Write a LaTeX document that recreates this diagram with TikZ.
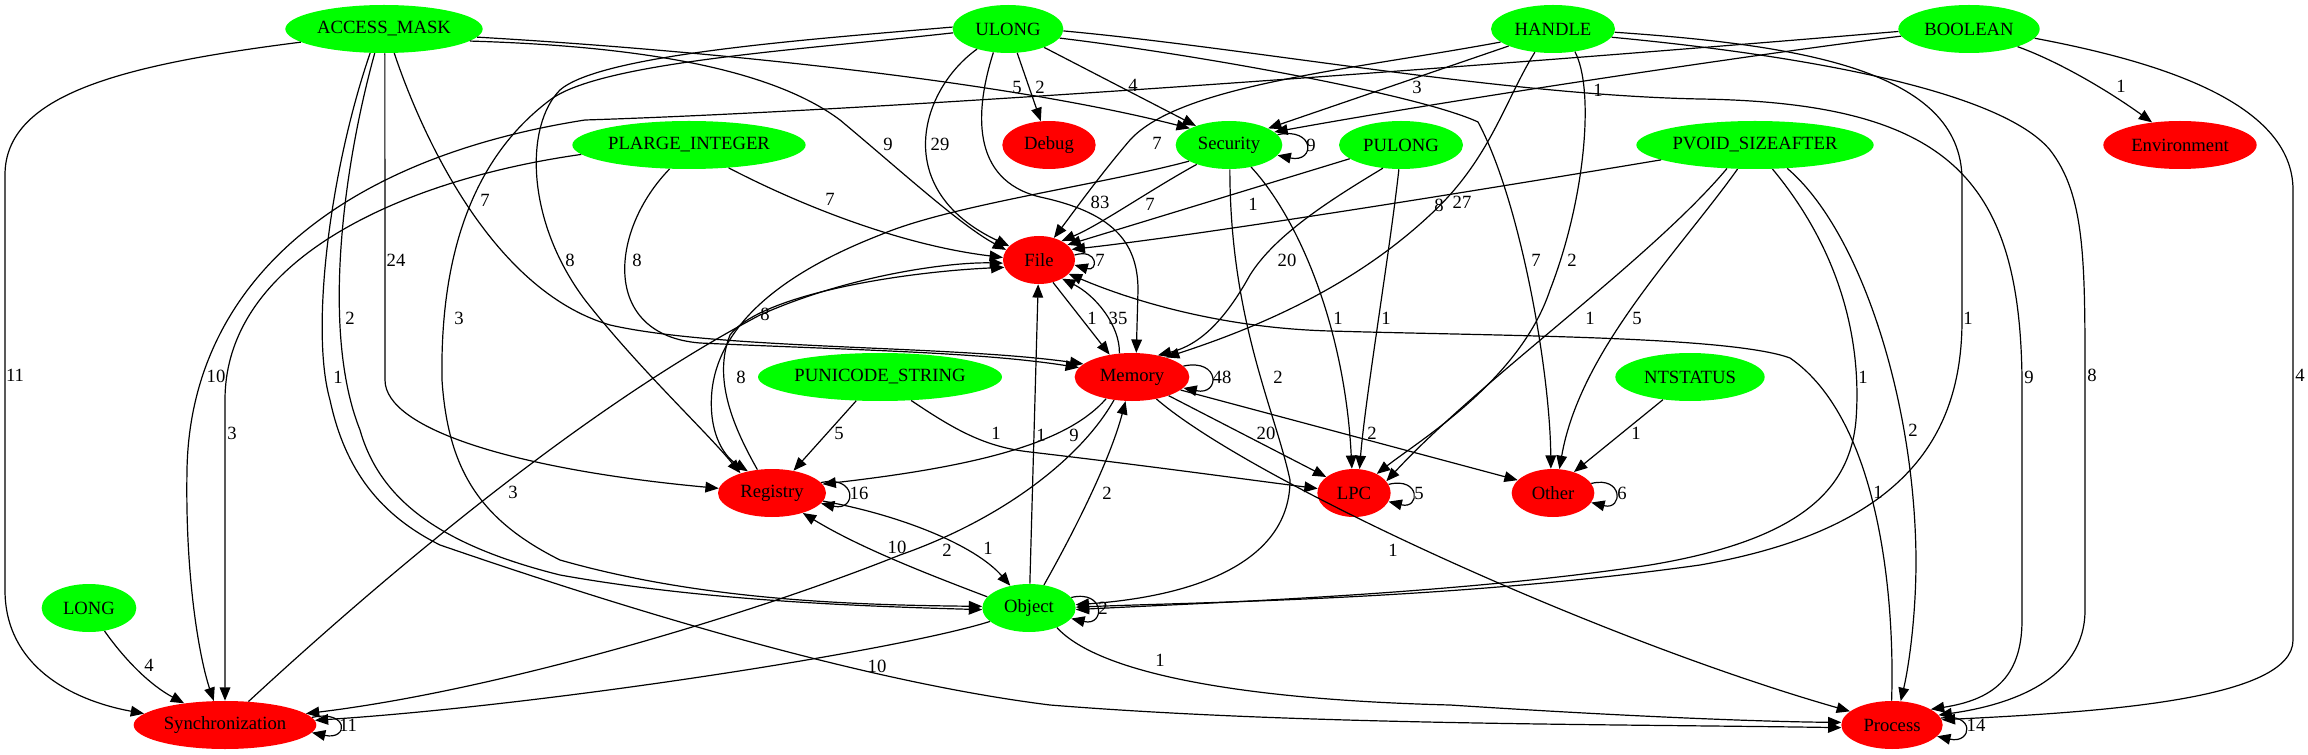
\documentclass[tikz,border=0pt]{standalone}
\usepackage{fontspec}
\setmainfont{Liberation Serif}
\usetikzlibrary{shapes.geometric,arrows.meta}
\definecolor{typegreen}{RGB}{0,255,0}
\definecolor{catred}{RGB}{255,0,0}

\begin{document}
\begin{tikzpicture}[x=0.75pt,y=0.75pt,
  typenode/.style={ellipse,fill=typegreen,inner sep=0pt,minimum height=36pt,font=\fontsize{14}{16}\selectfont},
  catnode/.style={ellipse,fill=catred,inner sep=0pt,minimum height=36pt,font=\fontsize{14}{16}\selectfont},
  link/.style={line width=0.9pt,-{Triangle[length=10pt,width=8pt]}},
  lbl/.style={inner sep=0pt,font=\fontsize{14}{16}\selectfont}]

\useasboundingbox (0,0) rectangle (2308,-755);

\node[typenode,minimum width=148pt] (accessmask) at (384,-29) {ACCESS\_MASK};
\node[typenode,minimum width=83pt] (ulong) at (1008,-29) {ULONG};
\node[typenode,minimum width=93pt] (handle) at (1553,-29) {HANDLE};
\node[typenode,minimum width=106pt] (boolean) at (1969,-29) {BOOLEAN};
\node[typenode,minimum width=175pt] (plarge) at (689,-145) {PLARGE\_INTEGER};
\node[catnode,minimum width=70pt] (debug) at (1049,-145) {Debug};
\node[typenode,minimum width=80pt] (security) at (1229,-145) {Security};
\node[typenode,minimum width=93pt] (pulong) at (1401,-145) {PULONG};
\node[typenode,minimum width=178pt] (pvoid) at (1755,-145) {PVOID\_SIZEAFTER};
\node[catnode,minimum width=115pt] (environment) at (2180,-145) {Environment};
\node[catnode,minimum width=54pt] (file) at (1039,-260) {File};
\node[typenode,minimum width=183pt] (punicode) at (880,-377) {PUNICODE\_STRING};
\node[catnode,minimum width=86pt] (memory) at (1132,-377) {Memory};
\node[typenode,minimum width=112pt] (ntstatus) at (1690,-377) {NTSTATUS};
\node[catnode,minimum width=81pt] (registry) at (772,-493) {Registry};
\node[catnode,minimum width=55pt] (lpc) at (1354,-493) {LPC};
\node[catnode,minimum width=62pt] (other) at (1553,-493) {Other};
\node[typenode,minimum width=71pt] (long) at (89,-608) {LONG};
\node[typenode,minimum width=70pt] (object) at (1029,-608) {Object};
\node[catnode,minimum width=137pt] (sync) at (225,-725) {Synchronization};
\node[catnode,minimum width=76pt] (process) at (1892,-725) {Process};

\draw[link] (accessmask.189) .. controls (120,-65) and (5,-95) .. (5,-175) -- (5,-590) .. controls (5,-665) and (70,-700) .. (sync.172) node[lbl] at (15,-375) {11};
\draw[link] (accessmask.272) -- (385,-380) .. controls (385,-430) and (520,-470) .. (registry.175) node[lbl] at (396,-260) {24};
\draw[link] (accessmask.249) .. controls (345,-160) and (320,-330) .. (360,-430) .. controls (380,-500) and (440,-545) .. (560,-575) .. controls (700,-600) and (850,-606) .. (object.182) node[lbl] at (350,-318) {2};
\draw[link] (accessmask.240) .. controls (330,-170) and (310,-330) .. (330,-400) .. controls (345,-470) and (380,-515) .. (440,-545) .. controls (600,-600) and (850,-680) .. (1050,-705) .. controls (1300,-725) and (1600,-724) .. (process.183) node[lbl] at (338,-377) {1};
\draw[link] (accessmask.293) .. controls (420,-130) and (490,-290) .. (610,-325) .. controls (720,-350) and (950,-345) .. (memory.165) node[lbl] at (485,-200) {7};
\draw[link] (accessmask.-8) .. controls (600,-45) and (760,-60) .. (840,-120) .. controls (900,-170) and (960,-225) .. (file.163) node[lbl] at (888,-144) {9};
\draw[link] (accessmask.-5) .. controls (700,-50) and (1000,-80) .. (security.157) node[lbl] at (1017,-87) {5};

\draw[link] (ulong.-27) -- (security.150) node[lbl] at (1133,-85) {4};
\draw[link] (ulong.-69) -- (debug.109) node[lbl] at (1040,-87) {2};
\draw[link] (ulong.213) .. controls (920,-90) and (890,-190) .. (file.155) node[lbl] at (940,-144) {29};
\draw[link] (ulong.238) .. controls (975,-110) and (970,-180) .. (1040,-197) .. controls (1110,-212) and (1138,-240) .. (1138,-290) -- (memory.80) node[lbl] at (1100,-202) {83};
\draw[link] (ulong.178) .. controls (800,-40) and (600,-55) .. (560,-90) .. controls (525,-125) and (525,-220) .. (585,-300) .. controls (640,-370) and (705,-430) .. (registry.148) node[lbl] at (570,-260) {8};
\draw[link] (ulong.184) .. controls (800,-50) and (600,-62) .. (550,-100) .. controls (470,-160) and (440,-260) .. (442,-380) .. controls (448,-470) and (480,-520) .. (560,-560) .. controls (700,-600) and (850,-605) .. (object.178) node[lbl] at (459,-318) {3};
\draw[link] (ulong.-10) .. controls (1200,-55) and (1420,-95) .. (1478,-122) .. controls (1520,-200) and (1550,-370) .. (other.95) node[lbl] at (1536,-260) {7};
\draw[link] (ulong.-2) .. controls (1250,-48) and (1500,-95) .. (1700,-99) .. controls (1950,-103) and (2020,-180) .. (2022,-380) -- (2022,-620) .. controls (2022,-680) and (1990,-700) .. (process.22) node[lbl] at (2029,-377) {9};

\draw[link] (handle.201) -- (security.23) node[lbl] at (1417,-87) {3};
\draw[link] (handle.194) .. controls (1350,-70) and (1180,-85) .. (1130,-140) .. controls (1100,-175) and (1075,-210) .. (file.56) node[lbl] at (1157,-143) {7};
\draw[link] (handle.232) .. controls (1505,-100) and (1490,-160) .. (1430,-215) .. controls (1350,-290) and (1250,-330) .. (memory.30) node[lbl] at (1462,-202) {27};
\draw[link] (handle.-46) .. controls (1595,-90) and (1585,-200) .. (1550,-290) .. controls (1520,-380) and (1420,-440) .. (lpc.40) node[lbl] at (1572,-260) {2};
\draw[link] (handle.-3) .. controls (1800,-45) and (1962,-70) .. (1962,-180) -- (1962,-320) .. controls (1962,-440) and (1900,-530) .. (1700,-565) .. controls (1450,-600) and (1200,-602) .. (object.1) node[lbl] at (1968,-318) {1};
\draw[link] (handle.-8) .. controls (1800,-55) and (2000,-90) .. (2050,-150) .. controls (2085,-195) and (2085,-260) .. (2085,-380) -- (2085,-610) .. controls (2085,-680) and (2010,-705) .. (process.12) node[lbl] at (2092,-375) {8};

\draw[link] (boolean.-20) .. controls (2060,-62) and (2110,-92) .. (environment.141) node[lbl] at (2121,-86) {1};
\draw[link] (boolean.-8) .. controls (2150,-60) and (2293,-100) .. (2293,-190) -- (2293,-640) .. controls (2293,-700) and (2100,-712) .. (process.6) node[lbl] at (2300,-375) {4};
\draw[link] (boolean.186) .. controls (1750,-55) and (1450,-100) .. (security.16) node[lbl] at (1598,-90) {1};
\draw[link] (boolean.182) .. controls (1500,-65) and (900,-110) .. (585,-120) .. controls (330,-160) and (190,-290) .. (187,-470) .. controls (185,-580) and (200,-660) .. (sync.115) node[lbl] at (216,-376) {10};

\draw[link] (plarge.185) .. controls (400,-180) and (225,-260) .. (225,-400) -- (sync.90) node[lbl] at (232,-433) {3};
\draw[link] (plarge.231) .. controls (610,-230) and (600,-335) .. (700,-343) .. controls (850,-350) and (980,-352) .. (memory.170) node[lbl] at (637,-260) {8};
\draw[link] (plarge.-30) .. controls (800,-205) and (900,-245) .. (file.176) node[lbl] at (830,-199) {7};

\draw[link] (pulong.195) -- (file.28) node[lbl] at (1253,-204) {1};
\draw[link] (pulong.232) .. controls (1330,-200) and (1275,-235) .. (1250,-275) .. controls (1225,-320) and (1200,-345) .. (memory.40) node[lbl] at (1287,-260) {20};
\draw[link] (pulong.265) .. controls (1390,-250) and (1365,-400) .. (lpc.77) node[lbl] at (1386,-318) {1};

\draw[link] (security.12) .. controls +(38,8) and +(38,-8) .. (security.-12) node[lbl] at (1311,-145) {9};
\draw[link] (security.211) .. controls (1150,-190) and (1100,-225) .. (file.40) node[lbl] at (1150,-204) {7};
\draw[link] (security.202) .. controls (1100,-185) and (950,-205) .. (880,-235) .. controls (790,-270) and (720,-320) .. (712,-390) .. controls (708,-430) and (722,-455) .. (registry.138) node[lbl] at (765,-314) {8};
\draw[link] (security.-45) .. controls (1300,-220) and (1345,-330) .. (lpc.95) node[lbl] at (1338,-318) {1};
\draw[link] (security.272) .. controls (1230,-320) and (1275,-410) .. (1290,-480) .. controls (1290,-560) and (1200,-596) .. (object.4) node[lbl] at (1278,-377) {2};

\draw[link] (pvoid.189) .. controls (1450,-195) and (1200,-235) .. (file.18) node[lbl] at (1439,-205) {8};
\draw[link] (pvoid.220) .. controls (1650,-260) and (1480,-380) .. (lpc.20) node[lbl] at (1590,-318) {1};
\draw[link] (pvoid.234) .. controls (1680,-250) and (1580,-350) .. (other.75) node[lbl] at (1637,-318) {5};
\draw[link] (pvoid.-54) .. controls (1840,-250) and (1862,-340) .. (1856,-420) .. controls (1850,-490) and (1800,-540) .. (1650,-565) .. controls (1450,-595) and (1200,-603) .. (object.-2) node[lbl] at (1863,-377) {1};
\draw[link] (pvoid.-36) .. controls (1860,-230) and (1915,-400) .. (1916,-560) .. controls (1916,-620) and (1908,-670) .. (process.70) node[lbl] at (1913,-430) {2};

\draw[link] (file.8) .. controls +(24,7) and +(24,-7) .. (file.-8) node[lbl] at (1100,-260) {7};
\draw[link] (file.-58) -- (memory.135) node[lbl] at (1092,-318) {1};

\draw[link] (memory.12) .. controls +(37,8) and +(37,-8) .. (memory.-12) node[lbl] at (1222,-377) {48};
\draw[link] (memory.118) .. controls (1120,-325) and (1095,-295) .. (file.-39) node[lbl] at (1118,-318) {35};
\draw[link] (memory.220) .. controls (1070,-440) and (990,-465) .. (registry.10) node[lbl] at (1074,-435) {9};
\draw[link] (memory.232) .. controls (1080,-460) and (1000,-520) .. (900,-555) .. controls (750,-615) and (500,-690) .. (sync.8) node[lbl] at (947,-550) {2};
\draw[link] (memory.-27) -- (lpc.150) node[lbl] at (1266,-433) {20};
\draw[link] (memory.-15) -- (other.160) node[lbl] at (1372,-433) {2};
\draw[link] (memory.-42) .. controls (1250,-480) and (1600,-640) .. (process.162) node[lbl] at (1393,-550) {1};

\draw[link] (registry.12) .. controls +(36,8) and +(36,-8) .. (registry.-12) node[lbl] at (859,-493) {16};
\draw[link] (registry.122) .. controls (735,-430) and (712,-380) .. (730,-335) .. controls (760,-295) and (900,-272) .. (file.192) node[lbl] at (741,-377) {8};
\draw[link] (registry.-9) .. controls (900,-515) and (975,-545) .. (object.130) node[lbl] at (988,-548) {1};

\draw[link] (object.14) .. controls +(34,8) and +(34,-8) .. (object.-14) node[lbl] at (1103,-608) {2};
\draw[link] (object.88) -- (file.-92) node[lbl] at (1041,-435) {1};
\draw[link] (object.57) .. controls (1075,-530) and (1110,-460) .. (memory.255) node[lbl] at (1107,-493) {2};
\draw[link] (object.165) .. controls (930,-575) and (860,-548) .. (registry.-33) node[lbl] at (897,-547) {10};
\draw[link] (object.199) .. controls (900,-650) and (550,-705) .. (sync.3) node[lbl] at (877,-666) {10};
\draw[link] (object.-35) .. controls (1100,-675) and (1250,-700) .. (1450,-705) .. controls (1650,-718) and (1780,-722) .. (process.177) node[lbl] at (1160,-660) {1};

\draw[link] (sync.5) .. controls +(37,8) and +(37,-8) .. (sync.-5) node[lbl] at (348,-725) {11};
\draw[link] (sync.45) .. controls (380,-580) and (580,-410) .. (760,-315) .. controls (850,-275) and (950,-262) .. (file.185) node[lbl] at (513,-492) {3};

\draw[link] (lpc.14) .. controls +(32,8) and +(32,-8) .. (lpc.-14) node[lbl] at (1419,-493) {5};
\draw[link] (other.14) .. controls +(32,8) and +(32,-8) .. (other.-14) node[lbl] at (1622,-493) {6};

\draw[link] (process.8) .. controls +(35,6) and +(35,-8) .. (process.-14) node[lbl] at (1976,-725) {14};
\draw[link] (process.91) .. controls (1895,-600) and (1880,-420) .. (1790,-358) .. controls (1730,-336) and (1500,-336) .. (1330,-331) .. controls (1220,-328) and (1130,-300) .. (file.-25) node[lbl] at (1878,-492) {1};

\draw[link] (punicode.225) -- (registry.46) node[lbl] at (839,-433) {5};
\draw[link] (punicode.-37) .. controls (955,-430) and (985,-447) .. (1030,-452) .. controls (1150,-466) and (1250,-480) .. (lpc.173) node[lbl] at (996,-433) {1};

\draw[link] (ntstatus.220) -- (other.45) node[lbl] at (1636,-433) {1};

\draw[link] (long.-56) .. controls (125,-660) and (150,-685) .. (sync.152) node[lbl] at (149,-665) {4};
\end{tikzpicture}
\end{document}
